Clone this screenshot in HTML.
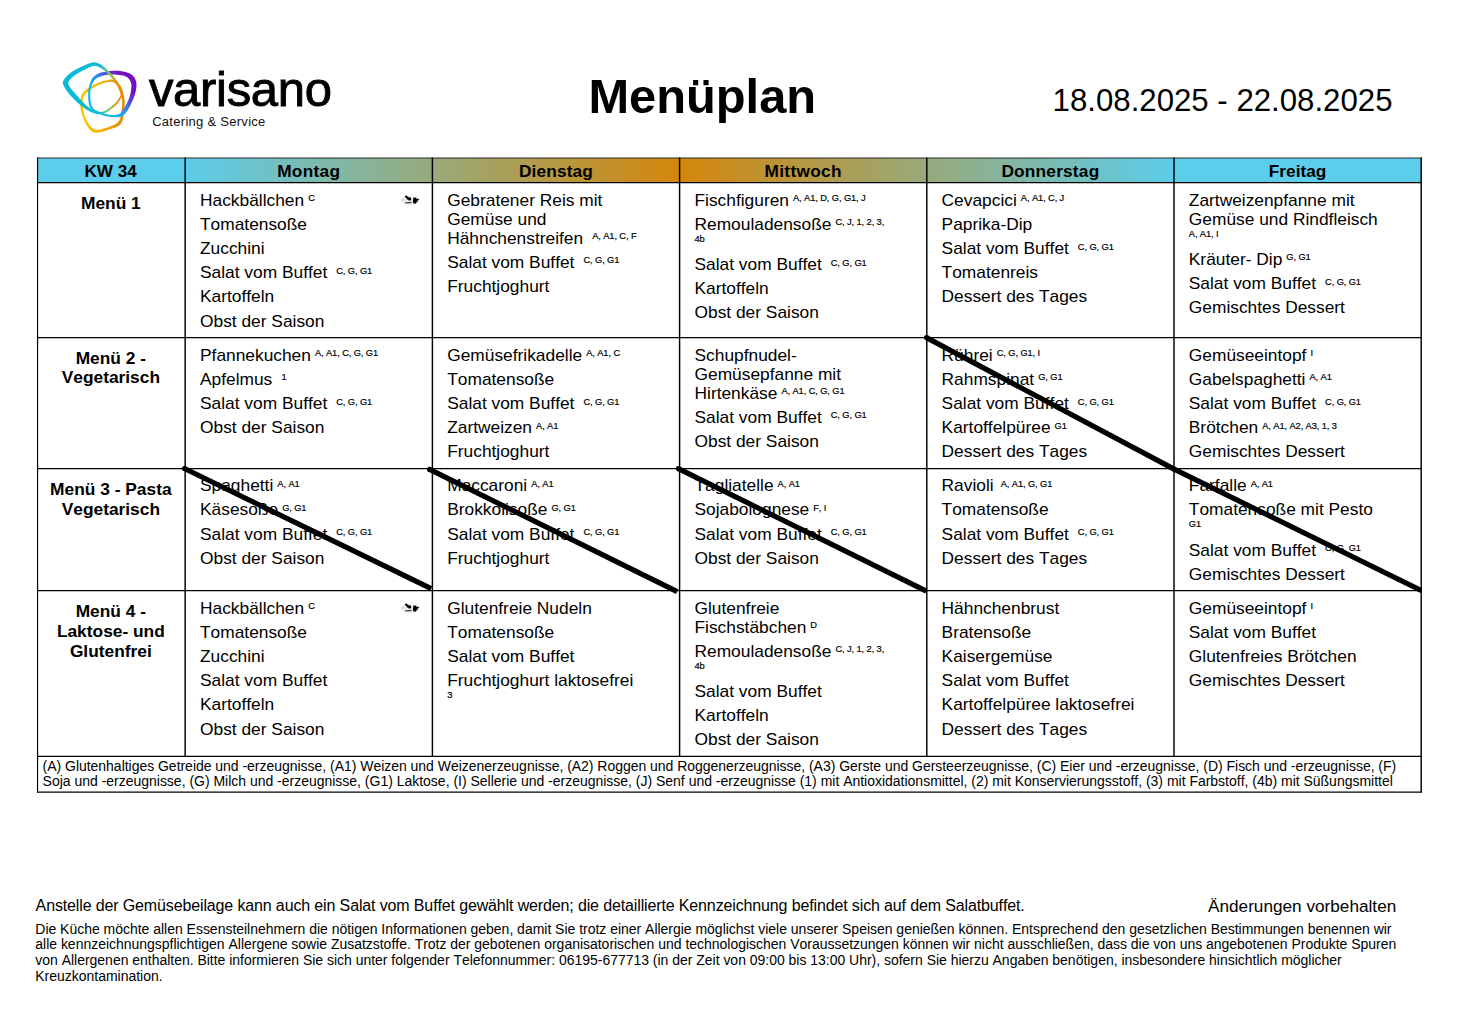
<!DOCTYPE html><html lang="de"><head><meta charset="utf-8"><title>Menüplan</title><style>
*{margin:0;padding:0;box-sizing:border-box}
html,body{width:1457px;height:1025px;background:#fff;overflow:hidden}
body{position:relative;font-family:"Liberation Sans",Arial,sans-serif;color:#000;font-kerning:none;font-variant-ligatures:none}
.abs{position:absolute}
#title{left:588.4px;top:68.3px;font-size:48.8px;font-weight:bold;line-height:56px;white-space:nowrap}
#date{left:1052.6px;top:83.4px;font-size:31.2px;line-height:36px;white-space:nowrap}
#hdrbg{left:37.55px;top:158.0px;width:1383.65px;height:24.70px;background:#5ccdeb}
#hdrgrad{left:185.15px;top:158.0px;width:988.85px;height:24.70px;background:linear-gradient(90deg,#5ccdeb 0%,#d4860a 50%,#5ccdeb 100%)}
.hd{top:161.9px;height:20px;line-height:20px;font-size:17.3px;letter-spacing:0.2px;font-weight:bold;text-align:center;white-space:nowrap}
.rh{left:37.05px;width:147.60px;font-size:17.35px;font-weight:bold;text-align:center;line-height:19.8px;white-space:nowrap}
.cell{font-size:17.35px;line-height:19px;white-space:nowrap}
.it{margin-bottom:5.2px;position:relative}
.s{font-size:9.3px;position:relative;top:-4.3px;line-height:0;letter-spacing:-0.1px;margin-left:-0.8px;-webkit-text-stroke:0.2px #000}
.sl{font-size:9.3px;height:16px;line-height:10.5px;letter-spacing:-0.1px;-webkit-text-stroke:0.2px #000}
.cow{position:absolute;left:200.2px;top:3.4px}
#legend{left:42.6px;top:758.8px;font-size:14px;line-height:15.5px;white-space:nowrap;letter-spacing:-0.028px}
#n1{left:35.6px;top:896.2px;font-size:16px;line-height:19px;white-space:nowrap;letter-spacing:-0.135px}
#n2{left:1208px;top:896px;font-size:17.2px;line-height:20px;white-space:nowrap}
#n3{left:35.3px;top:921.6px;font-size:14px;line-height:15.7px;white-space:nowrap;letter-spacing:-0.02px}
#lines{left:0;top:0}
#brand{left:148.9px;top:60.5px;font-size:49px;line-height:56px;letter-spacing:-0.3px;-webkit-text-stroke:0.9px #000;white-space:nowrap}
#tag{left:152.2px;top:114px;font-size:13px;line-height:16px;letter-spacing:0.28px;white-space:nowrap;color:#111}
</style></head><body>
<svg class="abs" style="left:55px;top:55px" width="90" height="85" viewBox="0 0 1085 1025">
<defs>
<linearGradient id="gc" gradientUnits="userSpaceOnUse" x1="100" y1="0" x2="810" y2="0"><stop offset="0" stop-color="#08bcd8"/><stop offset=".62" stop-color="#0dbbd3"/><stop offset=".8" stop-color="#9cc45c"/><stop offset=".92" stop-color="#ee9000"/><stop offset="1" stop-color="#ee8600"/></linearGradient>
<linearGradient id="gp" gradientUnits="userSpaceOnUse" x1="900" y1="250" x2="420" y2="650"><stop offset="0" stop-color="#7a0cc2"/><stop offset=".15" stop-color="#7410c6"/><stop offset=".3" stop-color="#5a4ad8"/><stop offset=".5" stop-color="#2a8eea"/><stop offset=".7" stop-color="#10b8e8"/><stop offset="1" stop-color="#0cbcd8"/></linearGradient>
<linearGradient id="gy" gradientUnits="userSpaceOnUse" x1="310" y1="0" x2="840" y2="0"><stop offset="0" stop-color="#fac800"/><stop offset=".45" stop-color="#f6b400"/><stop offset="1" stop-color="#e88400"/></linearGradient>
</defs>
<path fill="url(#gy)" fill-rule="evenodd" d="M305 560C308 530 309 497 325 470C341 443 368 422 400 400C432 378 480 352 520 335C560 318 607 305 640 300C673 295 697 295 720 305C743 315 763 336 780 360C797 384 810 417 820 450C830 483 838 518 840 560C842 602 835 660 830 700C825 740 822 773 810 800C798 827 787 843 760 860C733 877 690 888 650 900C610 912 553 931 520 935C487 939 472 938 450 925C428 912 408 888 390 860C372 832 353 795 340 760C327 725 316 683 310 650C304 617 302 590 305 560ZM335 560C337 533 336 512 350 490C364 468 390 447 420 425C450 403 493 377 530 360C567 343 611 330 640 325C669 320 685 321 705 330C725 339 745 358 760 380C775 402 787 430 795 460C803 490 809 522 810 560C811 598 805 653 800 690C795 727 791 757 780 780C769 803 758 815 735 830C712 845 676 858 640 870C604 882 549 897 520 900C491 903 482 900 465 890C448 880 432 863 415 840C398 817 378 782 365 750C352 718 345 682 340 650C335 618 333 587 335 560Z"/>
<path fill="url(#gp)" fill-rule="evenodd" d="M400 480C400 443 402 413 410 380C418 347 432 306 450 280C468 254 492 238 520 225C548 212 587 206 620 200C653 194 682 189 720 190C758 191 813 195 850 205C887 215 918 229 940 250C962 271 974 300 980 330C986 360 982 395 975 430C968 465 956 502 940 540C924 578 900 628 880 660C860 692 840 715 820 730C800 745 788 748 760 750C732 752 687 751 650 745C613 739 573 728 540 715C507 702 472 689 450 670C428 651 418 632 410 600C402 568 400 517 400 480ZM425 480C425 447 428 418 435 390C442 362 454 331 470 310C486 289 505 277 530 265C555 253 588 245 620 240C652 235 685 233 720 235C755 237 802 242 830 250C858 258 875 268 890 285C905 302 916 324 920 350C924 376 920 410 915 440C910 470 902 498 890 530C878 562 857 602 840 630C823 658 807 685 790 700C773 715 763 717 740 720C717 723 682 725 650 720C618 715 580 702 550 690C520 678 489 667 470 650C451 633 442 618 435 590C428 562 425 513 425 480Z"/>
<path fill="url(#gc)" fill-rule="evenodd" d="M100 310C112 285 147 247 180 220C213 193 255 172 300 150C345 128 413 98 450 90C487 82 495 90 520 100C545 110 570 125 600 150C630 175 672 217 700 250C728 283 752 313 770 350C788 387 807 440 810 470C813 500 805 505 790 530C775 555 752 592 720 620C688 648 637 685 600 700C563 715 533 715 500 710C467 705 435 690 400 670C365 650 328 623 290 590C252 557 201 507 170 470C139 433 117 397 105 370C93 343 88 335 100 310ZM165 320C175 300 202 272 230 250C258 228 293 209 330 190C367 171 420 144 450 135C480 126 487 127 510 135C533 143 562 162 590 185C618 208 653 244 680 275C707 306 732 338 750 370C768 402 786 446 790 470C794 494 788 494 775 515C762 536 739 568 710 595C681 622 633 660 600 675C567 690 540 691 510 685C480 679 450 661 420 640C390 619 362 592 330 560C298 528 257 482 230 450C203 418 181 392 170 370C159 348 155 340 165 320Z"/>
</svg>
<div class="abs" id="brand">varisano</div>
<div class="abs" id="tag">Catering &amp; Service</div>
<div id="title" class="abs">Menüplan</div>
<div id="date" class="abs">18.08.2025 - 22.08.2025</div>
<div id="hdrbg" class="abs"></div><div id="hdrgrad" class="abs"></div>
<div class="abs hd" style="left:36.75px;width:147.60000000000002px;letter-spacing:0;font-size:17.1px">KW 34</div>
<div class="abs hd" style="left:185.15px;width:247.24999999999997px;top:161.3px;letter-spacing:0.3px">Montag</div>
<div class="abs hd" style="left:432.4px;width:247.20000000000005px;top:161.3px;letter-spacing:0.15px">Dienstag</div>
<div class="abs hd" style="left:679.6px;width:247.19999999999993px;top:161.3px;letter-spacing:0.3px">Mittwoch</div>
<div class="abs hd" style="left:926.8px;width:247.20000000000005px;top:161.3px;letter-spacing:0.2px">Donnerstag</div>
<div class="abs hd" style="left:1174.0px;width:247.20000000000005px;top:161.3px;letter-spacing:0.0px">Freitag</div>
<div class="abs rh" style="top:193.89999999999998px">Menü 1</div>
<div class="abs rh" style="top:348.7px">Menü 2 -<br>Vegetarisch</div>
<div class="abs rh" style="top:479.75px">Menü 3 - Pasta<br>Vegetarisch</div>
<div class="abs rh" style="top:602.05px">Menü 4 -<br>Laktose- und<br>Glutenfrei</div>
<div class="abs cell" style="left:200.0px;top:190.6px;width:231.2px"><div class="it">Hackbällchen <span class="s">C</span><svg class="cow" viewBox="0 0 21 12" width="21" height="12"><g filter="url(#cb)"><ellipse cx="10.5" cy="6" rx="10" ry="5.4" fill="#f3f3f3"/><path d="M1.2 5.6 L3.6 4 L5 4.6 L4.6 7 L2.4 7.6 Z" fill="#ddd"/><path d="M4.6 2 L6.2 1.6 L8.6 3.2 L10.6 3.4 L11.4 5 L10.6 6.4 L8.8 6.6 L7.4 5.4 L5.6 3.6 Z" fill="#000"/><path d="M5 8.2 L11.4 7.8 L11.6 9.2 L5.2 9.6 Z" fill="#444"/><path d="M13.4 3.4 L15.4 3.6 L17 4.8 L19.4 5.2 L18 6.6 L16.6 8.4 L15.4 9.8 L13.6 9.6 L12.8 7.6 L13.2 5.2 Z" fill="#000"/><path d="M11.6 5.6 L12.8 5.4 L12.8 7.4 L11.8 7.2 Z" fill="#ccc"/></g></svg></div><div class="it">Tomatensoße</div><div class="it">Zucchini</div><div class="it">Salat vom Buffet<span class="s" style="margin-left:9px">C, G, G1</span></div><div class="it">Kartoffeln</div><div class="it">Obst der Saison</div></div>
<div class="abs cell" style="left:447.2px;top:190.6px;width:231.2px"><div class="it">Gebratener Reis mit<br>Gemüse und<br>Hähnchenstreifen<span class="s" style="margin-left:9px">A, A1, C, F</span></div><div class="it">Salat vom Buffet<span class="s" style="margin-left:9px">C, G, G1</span></div><div class="it">Fruchtjoghurt</div></div>
<div class="abs cell" style="left:694.5px;top:190.6px;width:231.2px"><div class="it">Fischfiguren <span class="s">A, A1, D, G, G1, J</span></div><div class="it">Remouladensoße <span class="s">C, J, 1, 2, 3,</span><div class="sl">4b</div></div><div class="it">Salat vom Buffet<span class="s" style="margin-left:9px">C, G, G1</span></div><div class="it">Kartoffeln</div><div class="it">Obst der Saison</div></div>
<div class="abs cell" style="left:941.6px;top:190.6px;width:231.2px"><div class="it">Cevapcici <span class="s">A, A1, C, J</span></div><div class="it">Paprika-Dip</div><div class="it">Salat vom Buffet<span class="s" style="margin-left:9px">C, G, G1</span></div><div class="it">Tomatenreis</div><div class="it">Dessert des Tages</div></div>
<div class="abs cell" style="left:1188.8px;top:190.6px;width:231.2px"><div class="it">Zartweizenpfanne mit<br>Gemüse und Rindfleisch<div class="sl">A, A1, I</div></div><div class="it">Kräuter- Dip <span class="s">G, G1</span></div><div class="it">Salat vom Buffet<span class="s" style="margin-left:9px">C, G, G1</span></div><div class="it">Gemischtes Dessert</div></div>
<div class="abs cell" style="left:200.0px;top:345.6px;width:231.2px"><div class="it">Pfannekuchen <span class="s">A, A1, C, G, G1</span></div><div class="it">Apfelmus<span class="s" style="margin-left:9.3px">1</span></div><div class="it">Salat vom Buffet<span class="s" style="margin-left:9px">C, G, G1</span></div><div class="it">Obst der Saison</div></div>
<div class="abs cell" style="left:447.2px;top:345.6px;width:231.2px"><div class="it">Gemüsefrikadelle <span class="s">A, A1, C</span></div><div class="it">Tomatensoße</div><div class="it">Salat vom Buffet<span class="s" style="margin-left:9px">C, G, G1</span></div><div class="it">Zartweizen <span class="s">A, A1</span></div><div class="it">Fruchtjoghurt</div></div>
<div class="abs cell" style="left:694.5px;top:345.6px;width:231.2px"><div class="it">Schupfnudel-<br>Gemüsepfanne mit<br>Hirtenkäse <span class="s">A, A1, C, G, G1</span></div><div class="it">Salat vom Buffet<span class="s" style="margin-left:9px">C, G, G1</span></div><div class="it">Obst der Saison</div></div>
<div class="abs cell" style="left:941.6px;top:345.6px;width:231.2px"><div class="it">Rührei <span class="s">C, G, G1, I</span></div><div class="it">Rahmspinat <span class="s">G, G1</span></div><div class="it">Salat vom Buffet<span class="s" style="margin-left:9px">C, G, G1</span></div><div class="it">Kartoffelpüree <span class="s">G1</span></div><div class="it">Dessert des Tages</div></div>
<div class="abs cell" style="left:1188.8px;top:345.6px;width:231.2px"><div class="it">Gemüseeintopf <span class="s">I</span></div><div class="it">Gabelspaghetti <span class="s">A, A1</span></div><div class="it">Salat vom Buffet<span class="s" style="margin-left:9px">C, G, G1</span></div><div class="it">Brötchen <span class="s">A, A1, A2, A3, 1, 3</span></div><div class="it">Gemischtes Dessert</div></div>
<div class="abs cell" style="left:200.0px;top:476.3px;width:231.2px"><div class="it">Spaghetti <span class="s">A, A1</span></div><div class="it">Käsesoße <span class="s">G, G1</span></div><div class="it">Salat vom Buffet<span class="s" style="margin-left:9px">C, G, G1</span></div><div class="it">Obst der Saison</div></div>
<div class="abs cell" style="left:447.2px;top:476.3px;width:231.2px"><div class="it">Maccaroni <span class="s">A, A1</span></div><div class="it">Brokkolisoße <span class="s">G, G1</span></div><div class="it">Salat vom Buffet<span class="s" style="margin-left:9px">C, G, G1</span></div><div class="it">Fruchtjoghurt</div></div>
<div class="abs cell" style="left:694.5px;top:476.3px;width:231.2px"><div class="it">Tagliatelle <span class="s">A, A1</span></div><div class="it">Sojabolognese <span class="s">F, I</span></div><div class="it">Salat vom Buffet<span class="s" style="margin-left:9px">C, G, G1</span></div><div class="it">Obst der Saison</div></div>
<div class="abs cell" style="left:941.6px;top:476.3px;width:231.2px"><div class="it">Ravioli<span class="s" style="margin-left:7.1px">A, A1, G, G1</span></div><div class="it">Tomatensoße</div><div class="it">Salat vom Buffet<span class="s" style="margin-left:9px">C, G, G1</span></div><div class="it">Dessert des Tages</div></div>
<div class="abs cell" style="left:1188.8px;top:476.3px;width:231.2px"><div class="it">Farfalle <span class="s">A, A1</span></div><div class="it">Tomatensoße mit Pesto<div class="sl">G1</div></div><div class="it">Salat vom Buffet<span class="s" style="margin-left:9px">C, G, G1</span></div><div class="it">Gemischtes Dessert</div></div>
<div class="abs cell" style="left:200.0px;top:598.6px;width:231.2px"><div class="it">Hackbällchen <span class="s">C</span><svg class="cow" viewBox="0 0 21 12" width="21" height="12"><g filter="url(#cb)"><ellipse cx="10.5" cy="6" rx="10" ry="5.4" fill="#f3f3f3"/><path d="M1.2 5.6 L3.6 4 L5 4.6 L4.6 7 L2.4 7.6 Z" fill="#ddd"/><path d="M4.6 2 L6.2 1.6 L8.6 3.2 L10.6 3.4 L11.4 5 L10.6 6.4 L8.8 6.6 L7.4 5.4 L5.6 3.6 Z" fill="#000"/><path d="M5 8.2 L11.4 7.8 L11.6 9.2 L5.2 9.6 Z" fill="#444"/><path d="M13.4 3.4 L15.4 3.6 L17 4.8 L19.4 5.2 L18 6.6 L16.6 8.4 L15.4 9.8 L13.6 9.6 L12.8 7.6 L13.2 5.2 Z" fill="#000"/><path d="M11.6 5.6 L12.8 5.4 L12.8 7.4 L11.8 7.2 Z" fill="#ccc"/></g></svg></div><div class="it">Tomatensoße</div><div class="it">Zucchini</div><div class="it">Salat vom Buffet</div><div class="it">Kartoffeln</div><div class="it">Obst der Saison</div></div>
<div class="abs cell" style="left:447.2px;top:598.6px;width:231.2px"><div class="it">Glutenfreie Nudeln</div><div class="it">Tomatensoße</div><div class="it">Salat vom Buffet</div><div class="it">Fruchtjoghurt laktosefrei<div class="sl">3</div></div></div>
<div class="abs cell" style="left:694.5px;top:598.6px;width:231.2px"><div class="it">Glutenfreie<br>Fischstäbchen <span class="s">D</span></div><div class="it">Remouladensoße <span class="s">C, J, 1, 2, 3,</span><div class="sl">4b</div></div><div class="it">Salat vom Buffet</div><div class="it">Kartoffeln</div><div class="it">Obst der Saison</div></div>
<div class="abs cell" style="left:941.6px;top:598.6px;width:231.2px"><div class="it">Hähnchenbrust</div><div class="it">Bratensoße</div><div class="it">Kaisergemüse</div><div class="it">Salat vom Buffet</div><div class="it">Kartoffelpüree laktosefrei</div><div class="it">Dessert des Tages</div></div>
<div class="abs cell" style="left:1188.8px;top:598.6px;width:231.2px"><div class="it">Gemüseeintopf <span class="s">I</span></div><div class="it">Salat vom Buffet</div><div class="it">Glutenfreies Brötchen</div><div class="it">Gemischtes Dessert</div></div>
<div id="legend" class="abs">(A) Glutenhaltiges Getreide und -erzeugnisse, (A1) Weizen und Weizenerzeugnisse, (A2) Roggen und Roggenerzeugnisse, (A3) Gerste und Gersteerzeugnisse, (C) Eier und -erzeugnisse, (D) Fisch und -erzeugnisse, (F)<br><span style="letter-spacing:-0.013px">Soja und -erzeugnisse, (G) Milch und -erzeugnisse, (G1) Laktose, (I) Sellerie und -erzeugnisse, (J) Senf und -erzeugnisse (1) mit Antioxidationsmittel, (2) mit Konservierungsstoff, (3) mit Farbstoff, (4b) mit Süßungsmittel</span></div>
<svg id="lines" class="abs" width="1457" height="1025" viewBox="0 0 1457 1025"><defs><filter id="cb" x="-20%" y="-20%" width="140%" height="140%"><feGaussianBlur stdDeviation="0.45"/></filter></defs><g stroke="#000" stroke-width="1.25" fill="none"><line stroke="#2a2a2a" stroke-width="1.05" x1="36.95" y1="158.0" x2="1421.80" y2="158.0"/><line x1="36.95" y1="182.7" x2="1421.80" y2="182.7"/><line x1="36.95" y1="337.7" x2="1421.80" y2="337.7"/><line x1="36.95" y1="468.55" x2="1421.80" y2="468.55"/><line x1="36.95" y1="590.65" x2="1421.80" y2="590.65"/><line x1="36.95" y1="756.3" x2="1421.80" y2="756.3"/><line x1="36.95" y1="792.0" x2="1421.80" y2="792.0"/><line stroke-width="1.15" x1="37.55" y1="157.4" x2="37.55" y2="792.6"/><line stroke-width="1.45" x1="185.15" y1="157.4" x2="185.15" y2="756.9"/><line stroke-width="1.45" x1="432.4" y1="157.4" x2="432.4" y2="756.9"/><line stroke-width="1.45" x1="679.6" y1="157.4" x2="679.6" y2="756.9"/><line stroke-width="1.45" x1="926.8" y1="157.4" x2="926.8" y2="756.9"/><line stroke-width="1.45" x1="1174.0" y1="157.4" x2="1174.0" y2="756.9"/><line stroke-width="1.45" x1="1421.2" y1="157.4" x2="1421.2" y2="792.6"/></g><clipPath id="cpd"><rect x="0" y="0" width="1421.85" height="1025"/></clipPath><g clip-path="url(#cpd)" stroke="#000" stroke-width="5.2" fill="#000"><line x1="184.5" y1="468.5" x2="431.2" y2="588.7"/><circle cx="184.5" cy="468.5" r="2.6" stroke="none"/><line x1="429.6" y1="469.4" x2="677.2" y2="591.6"/><circle cx="429.6" cy="469.4" r="2.6" stroke="none"/><line x1="678.4" y1="468.6" x2="926.35" y2="591.1"/><circle cx="678.4" cy="468.6" r="2.6" stroke="none"/><line x1="926.45" y1="337.6" x2="1174.07" y2="469.1"/><circle cx="926.45" cy="337.6" r="2.6" stroke="none"/><line x1="1174.07" y1="469.1" x2="1421.6" y2="590.6"/><circle cx="1174.07" cy="469.1" r="2.6" stroke="none"/></g></svg>
<div id="n1" class="abs">Anstelle der Gemüsebeilage kann auch ein Salat vom Buffet gewählt werden; die detaillierte Kennzeichnung befindet sich auf dem Salatbuffet.</div>
<div id="n2" class="abs">Änderungen vorbehalten</div>
<div id="n3" class="abs">Die Küche möchte allen Essensteilnehmern die nötigen Informationen geben, damit Sie trotz einer Allergie möglichst viele unserer Speisen genießen können. Entsprechend den gesetzlichen Bestimmungen benennen wir<br>alle kennzeichnungspflichtigen Allergene sowie Zusatzstoffe. Trotz der gebotenen organisatorischen und technologischen Voraussetzungen können wir nicht ausschließen, dass die von uns angebotenen Produkte Spuren<br>von Allergenen enthalten. Bitte informieren Sie sich unter folgender Telefonnummer: 06195-677713 (in der Zeit von 09:00 bis 13:00 Uhr), sofern Sie hierzu Angaben benötigen, insbesondere hinsichtlich möglicher<br>Kreuzkontamination.</div>
</body></html>
